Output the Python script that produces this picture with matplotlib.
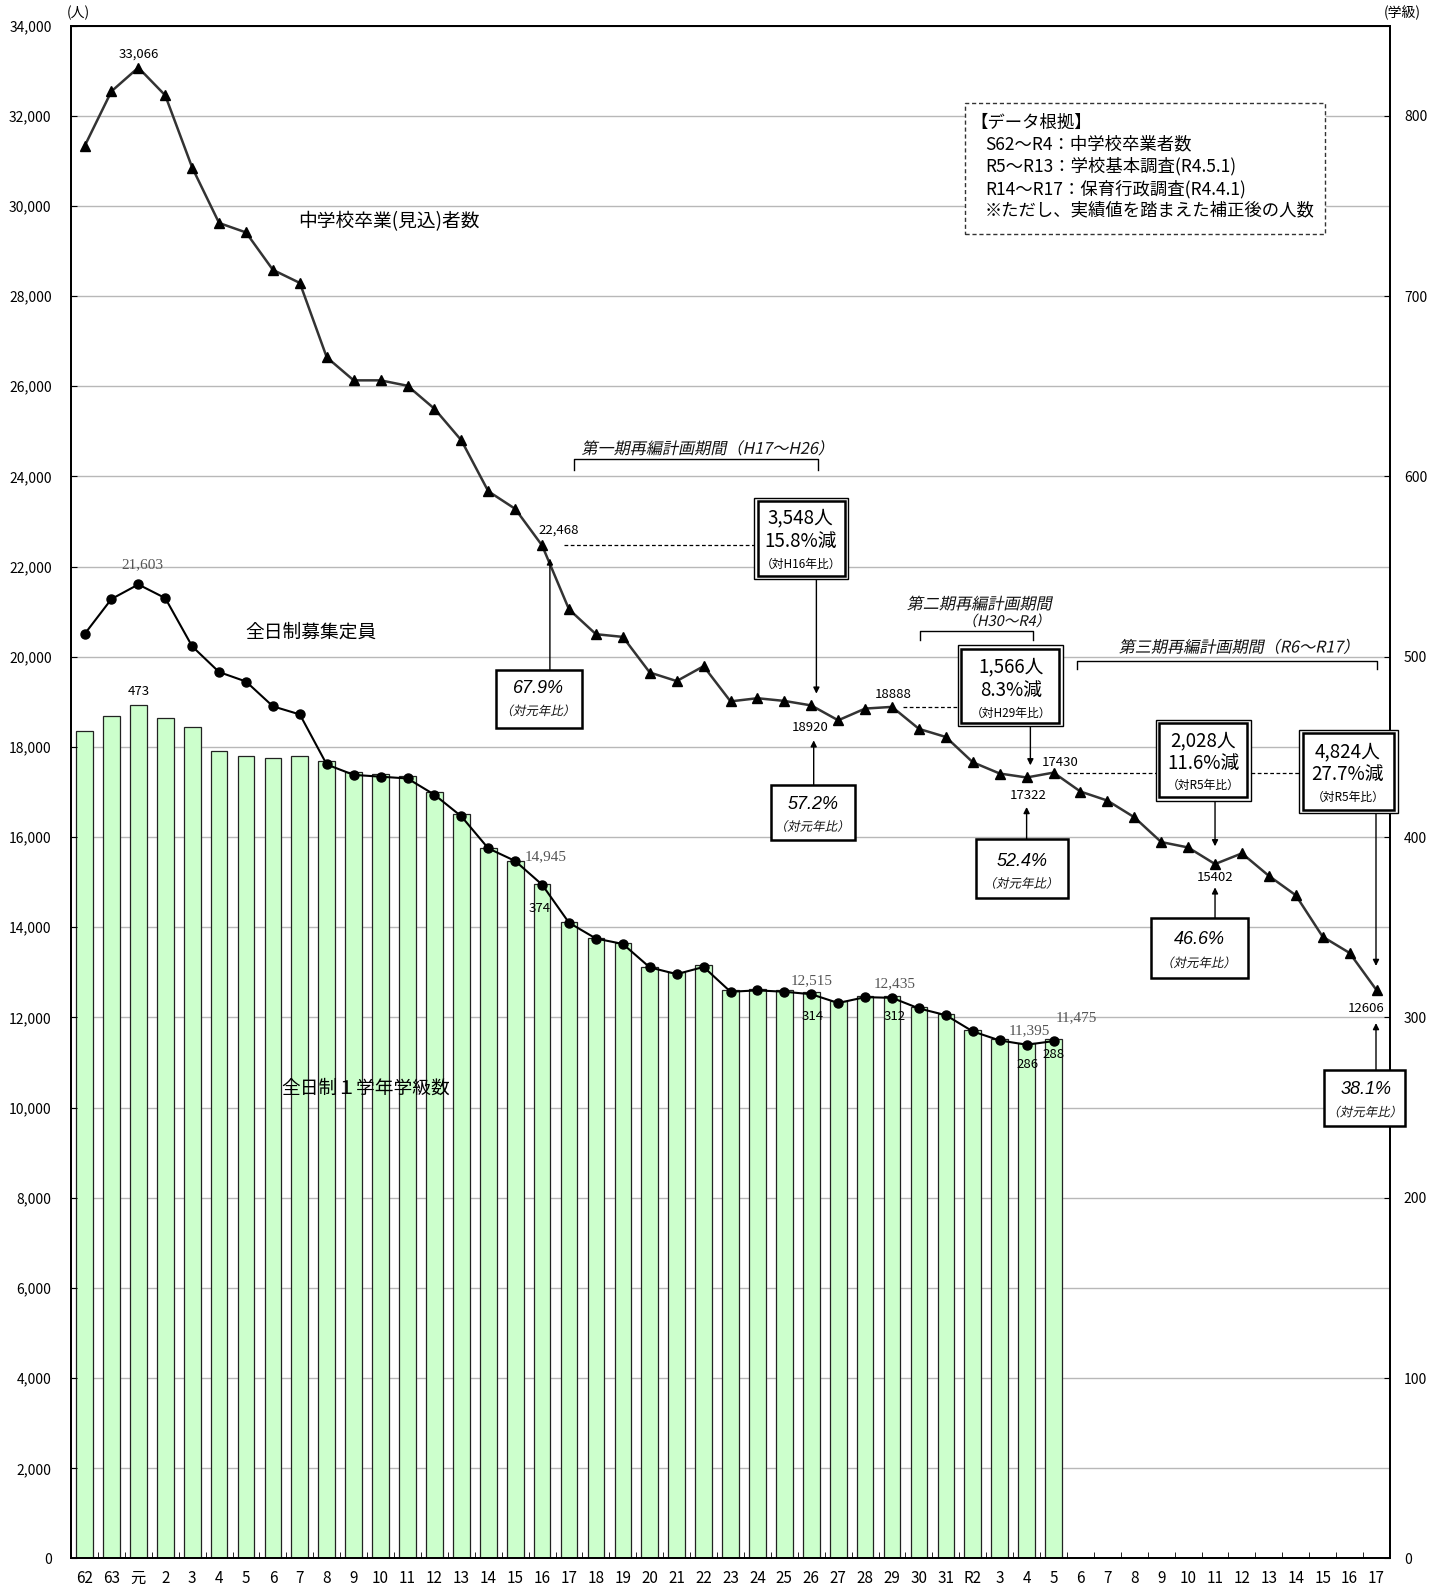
import numpy as np
import matplotlib.pyplot as plt
from matplotlib.patches import Rectangle, PathPatch
from matplotlib.textpath import TextPath
from matplotlib.font_manager import FontProperties
from matplotlib.transforms import Affine2D, ScaledTranslation

plt.rcParams['font.family'] = ['Noto Sans CJK JP', 'DejaVu Sans']

# x軸ラベル（S62〜R17）
categories = ['62', '63', '元', '2', '3', '4', '5', '6', '7', '8', '9', '10', '11', '12',
              '13', '14', '15', '16', '17', '18', '19', '20', '21', '22', '23', '24', '25',
              '26', '27', '28', '29', '30', '31', 'R2', '3', '4', '5', '6', '7', '8', '9',
              '10', '11', '12', '13', '14', '15', '16', '17']

# 中学校卒業(見込)者数 (人)
graduates = [31320, 32540, 33066, 32450, 30850, 29620, 29410, 28580, 28290, 26640,
             26130, 26130, 26010, 25500, 24800, 23670, 23280, 22468, 21050, 20500,
             20440, 19650, 19460, 19790, 19010, 19080, 19020, 18920, 18590, 18850,
             18888, 18400, 18220, 17660, 17410, 17322, 17430, 17010, 16810, 16440,
             15890, 15770, 15402, 15640, 15140, 14710, 13790, 13430, 12606]

# 全日制募集定員 (人)
quota = [20500, 21280, 21603, 21300, 20230, 19660, 19450, 18900, 18720, 17610,
         17380, 17340, 17300, 16940, 16460, 15750, 15470, 14945, 14100, 13750,
         13630, 13110, 12960, 13120, 12570, 12600, 12570, 12515, 12320, 12450,
         12435, 12200, 12050, 11690, 11490, 11395, 11475]

# 全日制1学年学級数 (学級)
classes = [459, 467, 473, 466, 461, 448, 445, 444, 445, 442, 436, 435, 434, 425,
           413, 394, 387, 374, 353, 344, 341, 328, 325, 329, 315, 316, 315, 314,
           309, 312, 312, 306, 302, 293, 288, 286, 288]

x = np.arange(len(categories))
xq = x[:len(quota)]

fig = plt.figure(figsize=(14.44, 15.84), dpi=100)
ax = fig.add_axes([0.0492, 0.0161, 0.9134, 0.9678])
ax2 = ax.twinx()
ax.set_zorder(2)
ax.patch.set_visible(False)
ax2.set_zorder(1)

ax.set_xlim(-0.5, len(categories) - 0.5)
ax.set_ylim(0, 34000)
ax2.set_ylim(0, 850)

# grid drawn on the class axis so it stays behind the bars
ax2.set_yticks(np.arange(0, 801, 100))
ax2.set_yticks(np.arange(0, 851, 50), minor=True)
ax2.grid(which='both', axis='y', color='#b8b8b8', lw=1.0)
ax2.set_axisbelow(True)
ax2.tick_params(axis='y', which='minor', length=0)
ax2.tick_params(axis='y', which='major', direction='in', length=4, labelsize=10, pad=10)

ax2.bar(xq, classes, width=0.62, color='#ccffcc', edgecolor='#222222', lw=0.9, zorder=2)

ax.plot(x, graduates, color='#333333', lw=1.8, marker='^', ms=7.5,
        mfc='black', mec='black', zorder=3)
ax.plot(xq, quota, color='black', lw=1.5, marker='o', ms=6.5, zorder=3)

ax.set_yticks(np.arange(0, 34001, 2000))
ax.set_yticklabels([f'{v:,}' for v in range(0, 34001, 2000)])
ax.tick_params(axis='y', direction='in', length=4, labelsize=10, pad=14)
ax.set_xticks(x)
ax.set_xticklabels(categories)
ax.set_xticks(x[:-1] + 0.5, minor=True)
ax.tick_params(axis='x', which='major', length=0, labelsize=11, pad=8)
ax.tick_params(axis='x', which='minor', direction='in', length=4)
for a in (ax, ax2):
    for s in a.spines.values():
        s.set_linewidth(1.3)

fig.text(0.054, 0.992, '(人)', ha='center', va='center', fontsize=10)
fig.text(0.971, 0.992, '(学級)', ha='center', va='center', fontsize=10)


def italic_text(xc, yc, s, size, zorder=7):
    # CJK font has no italic face, so slant the glyph outlines
    tp = TextPath((0, 0), s, prop=FontProperties(family='Noto Sans CJK JP', size=size))
    bb = tp.get_extents()
    tr = (Affine2D().translate(-(bb.x0 + bb.x1) / 2, -(bb.y0 + bb.y1) / 2)
          .skew_deg(12, 0).scale(fig.dpi / 72)
          + ScaledTranslation(xc, yc, ax.transData))
    ax.add_patch(PathPatch(tp, transform=tr, facecolor='#111111', edgecolor='none',
                           clip_on=False, zorder=zorder))


# series names
ax.text(11.3, 29640, '中学校卒業(見込)者数', ha='center', va='center', fontsize=13.5)
ax.text(8.4, 20550, '全日制募集定員', ha='center', va='center', fontsize=13.5)
ax.text(10.45, 10420, '全日制１学年学級数', ha='center', va='center', fontsize=13.5)

# small value labels
small = dict(ha='center', va='center', fontsize=9.5, zorder=5)
serif = dict(ha='center', va='center', fontsize=11, family='Liberation Serif',
             color='#555555', zorder=5)
ax.text(2, graduates[2] + 300, '33,066', **small)
ax.text(17.6, graduates[17] + 334, '22,468', **small)
ax.text(26.95, graduates[27] - 480, '18920', **small)
ax.text(30.03, graduates[30] + 280, '18888', **small)
ax.text(35.07, graduates[35] - 395, '17322', **small)
ax.text(36.24, graduates[36] + 226, '17430', **small)
ax.text(42.0, graduates[42] - 304, '15402', **small)
ax.text(47.6, graduates[48] - 415, '12606', **small)

ax.text(2.14, quota[2] + 445, '21,603', **serif)
ax.text(17.14, quota[17] + 614, '14,945', **serif)
ax.text(27.01, quota[27] + 310, '12,515', **serif)
ax.text(30.08, quota[30] + 317, '12,435', **serif)
ax.text(35.12, quota[35] + 322, '11,395', **serif)
ax.text(36.83, quota[36] + 519, '11,475', **serif)

ax2.text(2, classes[2] + 7.5, '473', **small)
ax2.text(16.92, classes[17] - 13.6, '374', **small)
ax2.text(27.04, classes[27] - 13.7, '314', **small)
ax2.text(30.1, classes[30] - 11.7, '312', **small)
ax2.text(35.04, classes[35] - 12.1, '286', **small)
ax2.text(35.99, classes[36] - 8.4, '288', **small)


def bracket(x0, x1, ytop, ybot):
    ax.plot([x0, x0, x1, x1], [ybot, ytop, ytop, ybot], color='black', lw=1.0, zorder=4)


italic_text(23.0, 24634, '第一期再編計画期間（H17〜H26）', 11.6)
bracket(18.2, 27.25, 24391, 24148)
italic_text(33.27, 21190, '第二期再編計画期間', 11.6)
italic_text(34.29, 20806, '（H30〜R4）', 10.5)
bracket(31.05, 35.23, 20563, 20363)
italic_text(42.74, 20230, '第三期再編計画期間（R6〜R17）', 11.6)
bracket(36.88, 48.0, 19911, 19738)


def box(x0, x1, y0, y1, double=False):
    kw = dict(facecolor='white', edgecolor='black', clip_on=False, zorder=6)
    if double:
        ax.add_patch(Rectangle((x0, y0), x1 - x0, y1 - y0, lw=1.0, **kw))
        dx, dy = 0.13, 78
        ax.add_patch(Rectangle((x0 + dx, y0 + dy), x1 - x0 - 2 * dx, y1 - y0 - 2 * dy,
                               lw=1.8, facecolor='none', edgecolor='black',
                               clip_on=False, zorder=6))
    else:
        ax.add_patch(Rectangle((x0, y0), x1 - x0, y1 - y0, lw=1.8, **kw))


def arrow(xa, y_from, y_to):
    ax.annotate('', xy=(xa, y_to), xytext=(xa, y_from),
                arrowprops=dict(arrowstyle='-|>', color='black', lw=1.0,
                                mutation_scale=9, shrinkA=0, shrinkB=0),
                zorder=5, annotation_clip=False)


def dashed(x0, x1, yv):
    ax.plot([x0, x1], [yv, yv], color='black', lw=0.9, ls=(0, (3, 2)), zorder=4)


big = dict(ha='center', va='center', fontsize=13.5, zorder=7)
note = dict(ha='center', va='center', fontsize=8.5, zorder=7)
pct = dict(ha='center', va='center', fontsize=13, family='Liberation Sans',
           style='italic', zorder=7)

# 67.9%
box(15.29, 18.47, 18428, 19713)
ax.text(16.88, 19292, '67.9%', **pct)
italic_text(16.88, 18811, '（対元年比）', 9)
arrow(17.29, 19713, 22180)

# 3,548人
dashed(17.8, 24.88, graduates[17])
box(24.88, 28.38, 21716, 23527, double=True)
ax.text(26.6, 23074, '3,548人', **big)
ax.text(26.6, 22564, '15.8%減', **big)
ax.text(26.6, 22048, '（対H16年比）', **note)
arrow(27.19, 21716, 19181)

# 57.2%
box(25.52, 28.64, 15929, 17164)
ax.text(27.07, 16727, '57.2%', **pct)
italic_text(27.07, 16246, '（対元年比）', 9)
arrow(27.09, 17164, 18146)

# 1,566人
dashed(30.4, 32.45, graduates[30])
box(32.45, 36.35, 18457, 20253, double=True)
ax.text(34.42, 19771, '1,566人', **big)
ax.text(34.42, 19255, '8.3%減', **big)
ax.text(34.42, 18738, '（対H29年比）', **note)
arrow(35.14, 18457, 17592)

# 52.4%
box(33.12, 36.54, 14659, 15958)
ax.text(34.83, 15450, '52.4%', **pct)
italic_text(34.83, 14984, '（対元年比）', 9)
arrow(35.0, 15958, 16667)

# 2,028人
dashed(36.49, 39.79, graduates[36])
dashed(43.32, 45.12, graduates[36])
box(39.79, 43.32, 16807, 18605, double=True)
ax.text(41.56, 18146, '2,028人', **big)
ax.text(41.56, 17639, '11.6%減', **big)
ax.text(41.56, 17140, '（対R5年比）', **note)
arrow(42.0, 16807, 15796)

# 46.6%
box(39.62, 43.21, 12881, 14195)
ax.text(41.42, 13737, '46.6%', **pct)
italic_text(41.42, 13222, '（対元年比）', 9)
arrow(42.0, 14195, 14885)

# 4,824人
box(45.12, 48.78, 16530, 18383, double=True)
ax.text(46.93, 17893, '4,824人', **big)
ax.text(46.93, 17379, '27.7%減', **big)
ax.text(46.93, 16880, '（対R5年比）', **note)
arrow(47.98, 16530, 13142)

# 38.1%
box(46.06, 49.06, 9595, 10845)
ax.text(47.6, 10411, '38.1%', **pct)
italic_text(47.6, 9912, '（対元年比）', 9)
arrow(47.98, 10845, 11875)

# データ根拠
ax.add_patch(Rectangle((32.71, 29379), 46.08 - 32.71, 32275 - 29379, lw=1.0, ls=(0, (3, 2)),
                       facecolor='white', edgecolor='#333333', zorder=6))
src = dict(ha='left', va='center', fontsize=12.5, zorder=7)
ax.text(32.9, 31840, '【データ根拠】', **src)
ax.text(33.45, 31374, 'S62〜R4：中学校卒業者数', **src)
ax.text(33.45, 30878, 'R5〜R13：学校基本調査(R4.5.1)', **src)
ax.text(33.45, 30377, 'R14〜R17：保育行政調査(R4.4.1)', **src)
ax.text(33.45, 29896, '※ただし、実績値を踏まえた補正後の人数', **src)

fig.savefig('out.png', dpi=100)
